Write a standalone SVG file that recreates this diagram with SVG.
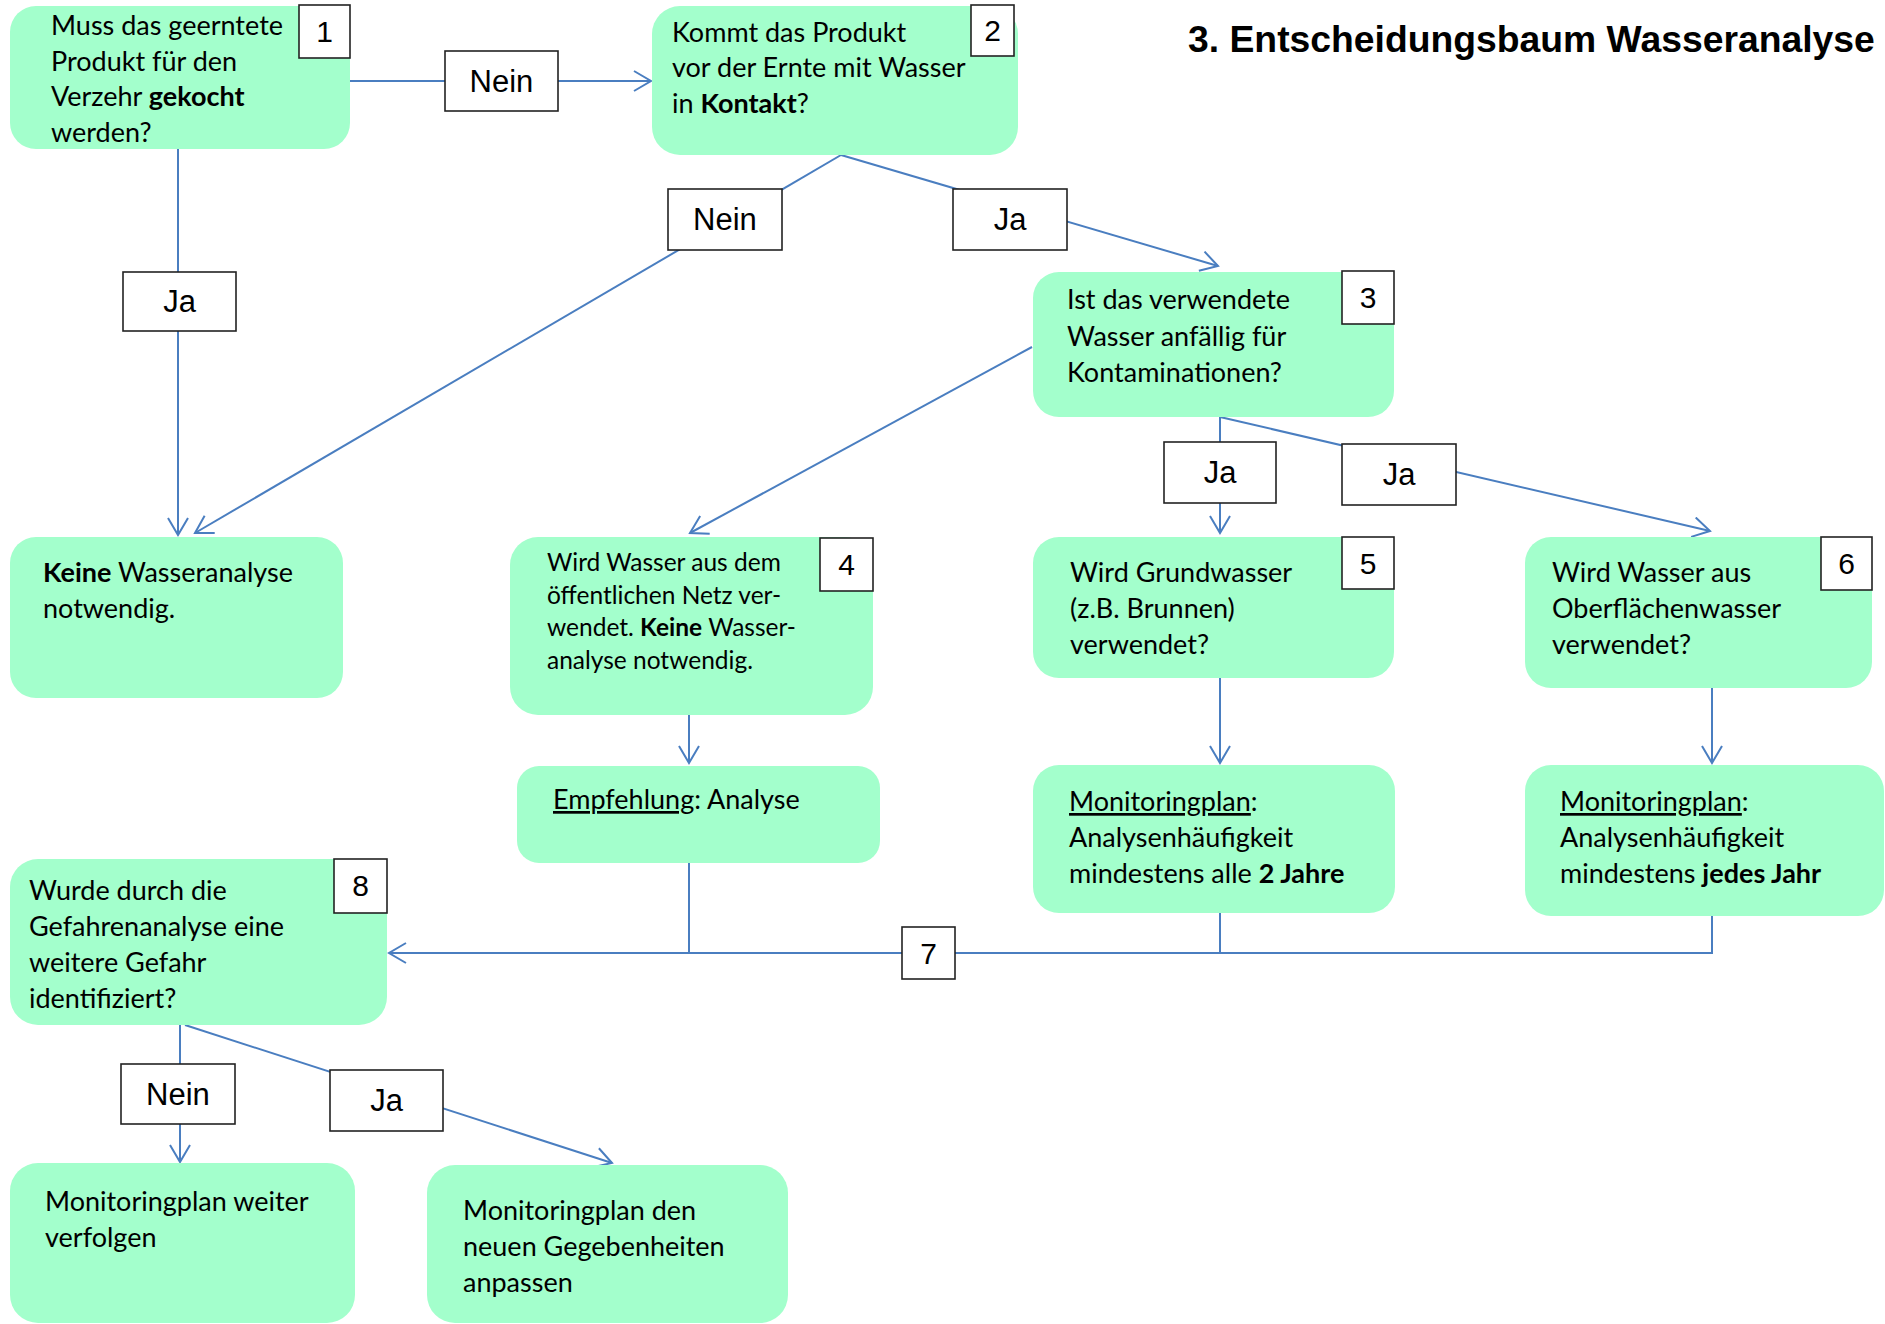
<svg xmlns="http://www.w3.org/2000/svg" width="1885" height="1324" viewBox="0 0 1885 1324">
<style>
.node{fill:#A3FFCC}
.t{font-family:Lato,"Liberation Sans",sans-serif;font-size:27px;fill:#000}
.t4{font-size:24.5px}
.b{font-weight:bold}
.u{text-decoration:underline}
.lbl rect,.num rect{fill:#fff;stroke:#222;stroke-width:1.6}
.lbl text{font-family:"Liberation Sans",Arial,sans-serif;font-size:31px;text-anchor:middle;fill:#000}
.num text{font-family:"Liberation Sans",Arial,sans-serif;font-size:30px;text-anchor:middle;fill:#000}
.c{stroke:#4A7EC0;stroke-width:2;fill:none}
.title{font-family:"Liberation Sans",Arial,sans-serif;font-size:37.3px;font-weight:bold;fill:#000}
</style>
<defs>
<marker id="arr" markerWidth="22" markerHeight="24" refX="18" refY="11" orient="auto" markerUnits="userSpaceOnUse">
<path d="M1,1 L18,11 L1,21" fill="none" stroke="#4A7EC0" stroke-width="2"/>
</marker>
</defs>
<rect width="1885" height="1324" fill="#fff"/>
<text class="title" x="1188" y="52">3. Entscheidungsbaum Wasseranalyse</text>

<g id="connectors">
<path class="c" d="M350,81 L651,81" marker-end="url(#arr)"/>
<path class="c" d="M178,149 L178,535" marker-end="url(#arr)"/>
<path class="c" d="M841,155 L195,533" marker-end="url(#arr)"/>
<path class="c" d="M841,155 L1218,266" marker-end="url(#arr)"/>
<path class="c" d="M1032,347 L690,533" marker-end="url(#arr)"/>
<path class="c" d="M1220,417 L1220,533" marker-end="url(#arr)"/>
<path class="c" d="M1220,417 L1710,531" marker-end="url(#arr)"/>
<path class="c" d="M689,715 L689,763" marker-end="url(#arr)"/>
<path class="c" d="M1220,678 L1220,763" marker-end="url(#arr)"/>
<path class="c" d="M1712,688 L1712,763" marker-end="url(#arr)"/>
<path class="c" d="M689,863 L689,953"/>
<path class="c" d="M1220,913 L1220,953"/>
<path class="c" d="M1712,916 L1712,953 L389,953" marker-end="url(#arr)"/>
<path class="c" d="M180,1025 L180,1162" marker-end="url(#arr)"/>
<path class="c" d="M185,1025 L612,1163" marker-end="url(#arr)"/>
</g>

<g id="labels">
<g class="lbl" id="lbl-1-2"><rect x="445" y="51" width="113" height="60"/><text x="501.5" y="92">Nein</text></g>
<g class="lbl" id="lbl-1-k"><rect x="123" y="272" width="113" height="59"/><text x="179.5" y="312">Ja</text></g>
<g class="lbl" id="lbl-2-k"><rect x="668" y="189" width="114" height="61"/><text x="725" y="230">Nein</text></g>
<g class="lbl" id="lbl-2-3"><rect x="953" y="189" width="114" height="61"/><text x="1010" y="230">Ja</text></g>
<g class="lbl" id="lbl-3-5"><rect x="1164" y="442" width="112" height="61"/><text x="1220" y="483">Ja</text></g>
<g class="lbl" id="lbl-3-6"><rect x="1342" y="444" width="114" height="61"/><text x="1399" y="485">Ja</text></g>
<g class="lbl" id="lbl-8-n"><rect x="121" y="1064" width="114" height="60"/><text x="178" y="1105">Nein</text></g>
<g class="lbl" id="lbl-8-j"><rect x="330" y="1070" width="113" height="61"/><text x="386.5" y="1111">Ja</text></g>
</g>

<g id="n1">
<rect class="node" x="10" y="6" width="340" height="143" rx="26"/>
<text class="t" x="51" y="35">Muss das geerntete</text>
<text class="t" x="51" y="71">Produkt für den</text>
<text class="t" x="51" y="106">Verzehr <tspan class="b">gekocht</tspan></text>
<text class="t" x="51" y="142">werden?</text>
<g class="num"><rect x="299" y="5" width="51" height="53"/><text x="324.5" y="42">1</text></g>
</g>

<g id="n2">
<rect class="node" x="652" y="6" width="366" height="149" rx="28"/>
<text class="t" x="672" y="42">Kommt das Produkt</text>
<text class="t" x="672" y="77">vor der Ernte mit Wasser</text>
<text class="t" x="672" y="113">in <tspan class="b">Kontakt</tspan>?</text>
<g class="num"><rect x="971" y="5" width="43" height="51"/><text x="992.5" y="41">2</text></g>
</g>

<g id="n3">
<rect class="node" x="1033" y="272" width="361" height="145" rx="26"/>
<text class="t" x="1067" y="309">Ist das verwendete</text>
<text class="t" x="1067" y="346">Wasser anfällig für</text>
<text class="t" x="1067" y="382">Kontaminationen?</text>
<g class="num"><rect x="1342" y="271" width="52" height="53"/><text x="1368" y="308">3</text></g>
</g>

<g id="nk">
<rect class="node" x="10" y="537" width="333" height="161" rx="26"/>
<text class="t" x="43" y="582"><tspan class="b">Keine</tspan> Wasseranalyse</text>
<text class="t" x="43" y="618">notwendig.</text>
</g>

<g id="n4">
<rect class="node" x="510" y="537" width="363" height="178" rx="28"/>
<text class="t t4" x="547" y="571">Wird Wasser aus dem</text>
<text class="t t4" x="547" y="604">öffentlichen Netz ver-</text>
<text class="t t4" x="547" y="636">wendet. <tspan class="b">Keine</tspan> Wasser-</text>
<text class="t t4" x="547" y="669">analyse notwendig.</text>
<g class="num"><rect x="820" y="538" width="53" height="53"/><text x="846.5" y="575">4</text></g>
</g>

<g id="n5">
<rect class="node" x="1033" y="537" width="361" height="141" rx="26"/>
<text class="t" x="1070" y="582">Wird Grundwasser</text>
<text class="t" x="1070" y="618">(z.B. Brunnen)</text>
<text class="t" x="1070" y="654">verwendet?</text>
<g class="num"><rect x="1342" y="537" width="52" height="52"/><text x="1368" y="574">5</text></g>
</g>

<g id="n6">
<rect class="node" x="1525" y="537" width="347" height="151" rx="26"/>
<text class="t" x="1552" y="582">Wird Wasser aus</text>
<text class="t" x="1552" y="618">Oberflächenwasser</text>
<text class="t" x="1552" y="654">verwendet?</text>
<g class="num"><rect x="1821" y="537" width="51" height="53"/><text x="1846.5" y="574">6</text></g>
</g>

<g id="ne">
<rect class="node" x="517" y="766" width="363" height="97" rx="22"/>
<text class="t" x="553" y="809"><tspan class="u">Empfehlung</tspan>: Analyse</text>
</g>

<g id="nm1">
<rect class="node" x="1033" y="765" width="362" height="148" rx="26"/>
<text class="t" x="1069" y="811"><tspan class="u">Monitoringplan</tspan>:</text>
<text class="t" x="1069" y="847">Analysenhäufigkeit</text>
<text class="t" x="1069" y="883">mindestens alle <tspan class="b">2 Jahre</tspan></text>
</g>

<g id="nm2">
<rect class="node" x="1525" y="765" width="359" height="151" rx="26"/>
<text class="t" x="1560" y="811"><tspan class="u">Monitoringplan</tspan>:</text>
<text class="t" x="1560" y="847">Analysenhäufigkeit</text>
<text class="t" x="1560" y="883">mindestens <tspan class="b">jedes Jahr</tspan></text>
</g>

<g id="n7">
<g class="num"><rect x="902" y="927" width="53" height="52"/><text x="928.5" y="964">7</text></g>
</g>

<g id="n8">
<rect class="node" x="10" y="859" width="377" height="166" rx="28"/>
<text class="t" x="29" y="900">Wurde durch die</text>
<text class="t" x="29" y="936">Gefahrenanalyse eine</text>
<text class="t" x="29" y="972">weitere Gefahr</text>
<text class="t" x="29" y="1008">identifiziert?</text>
<g class="num"><rect x="334" y="859" width="53" height="54"/><text x="360.5" y="896">8</text></g>
</g>

<g id="nw">
<rect class="node" x="10" y="1163" width="345" height="160" rx="28"/>
<text class="t" x="45" y="1211">Monitoringplan weiter</text>
<text class="t" x="45" y="1247">verfolgen</text>
</g>

<g id="na">
<rect class="node" x="427" y="1165" width="361" height="158" rx="28"/>
<text class="t" x="463" y="1220">Monitoringplan den</text>
<text class="t" x="463" y="1256">neuen Gegebenheiten</text>
<text class="t" x="463" y="1292">anpassen</text>
</g>
</svg>
